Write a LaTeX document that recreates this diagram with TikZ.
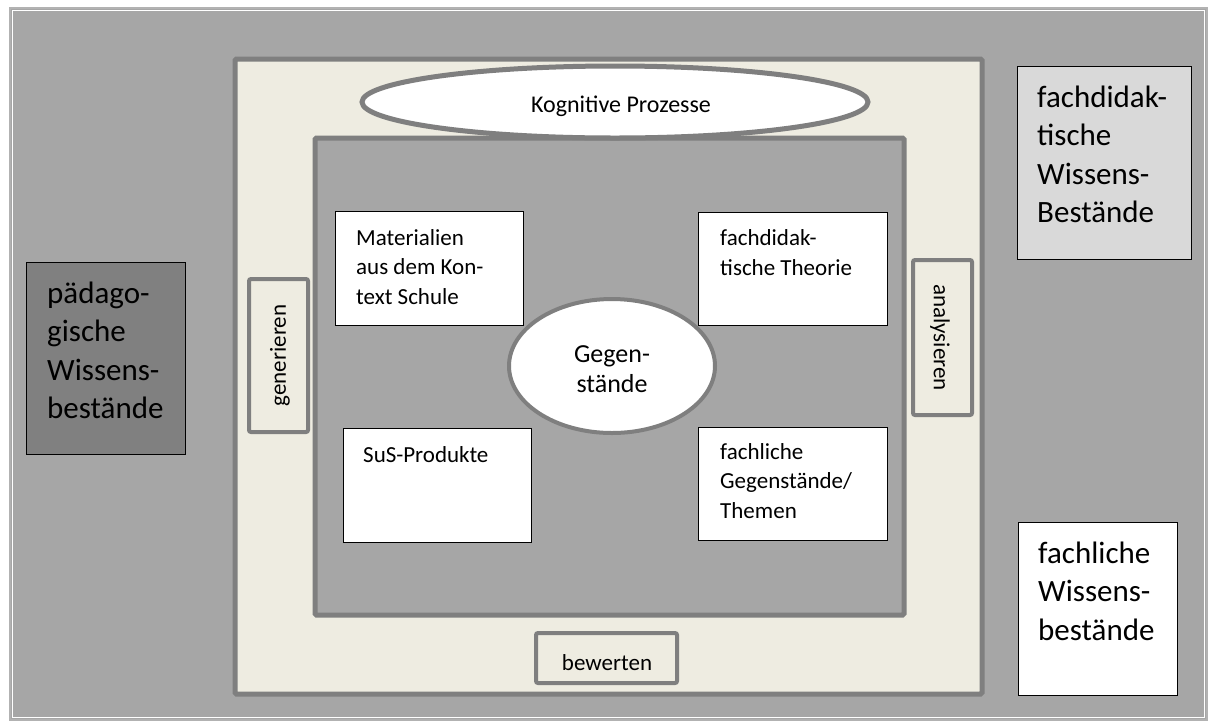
\documentclass[tikz,border=0pt]{standalone}
\usepackage{fontspec}
\setmainfont{Carlito}
\usetikzlibrary{shapes.geometric}
\definecolor{bggray}{HTML}{A6A6A6}
\definecolor{beige}{HTML}{EEECE1}
\definecolor{framegray}{HTML}{7F7F7F}
\definecolor{darkbox}{HTML}{808080}
\definecolor{lightbox}{HTML}{D9D9D9}
\begin{document}
\begin{tikzpicture}[x=1pt,y=-1pt,
  heavy/.style={draw=framegray, line width=5pt, rounded corners=1.5pt},
  card/.style={draw=black, line width=1.2pt, fill=white, anchor=north west, inner sep=0pt},
  bigcard/.style={draw=black, line width=0.9pt, anchor=north west, inner sep=0pt},
  verb/.style={draw=framegray, line width=4pt, fill=beige, rounded corners=2pt, inner sep=0pt},
  smalltxt/.style={anchor=base west, align=left, inner sep=0pt, font=\fontsize{23}{29.5}\selectfont},
  bigtxt/.style={anchor=base west, align=left, inner sep=0pt, font=\fontsize{31}{38.5}\selectfont},
  verbtxt/.style={inner sep=0pt, font=\fontsize{23}{26}\selectfont}
]
\useasboundingbox (0,0) rectangle (1215,724);
\fill[white] (0,0) rectangle (1215,724);
% outer frame
\draw[draw=gray!60, line width=1.5pt, fill=bggray] (10,8) rectangle (1207,720);
\draw[white, line width=1pt] (12.5,10.5) rectangle (1204.5,717.5);
% beige frame
\draw[heavy, fill=beige] (235,59) rectangle (982,694);
% inner gray box
\draw[heavy, fill=bggray] (315,138) rectangle (904,615);
% Kognitive Prozesse
\node[ellipse, draw=framegray, line width=5pt, fill=white, minimum width=506pt, minimum height=72pt, inner sep=0pt] (kog) at (615,102) {};
\node[anchor=base, inner sep=0pt, font=\fontsize{24}{28}\selectfont] (kogt) at (621,112) {Kognitive Prozesse};
% four cards
\node[card, minimum width=188pt, minimum height=114pt] (mat) at (335,211) {};
\node[smalltxt] (matt) at (356,304) {Materialien\\aus dem Kon-\\text Schule};
\node[card, minimum width=189pt, minimum height=113pt] (fdt) at (698,212) {};
\node[smalltxt] (fdtt) at (720,275) {fachdidak-\\tische Theorie};
\node[card, minimum width=188pt, minimum height=114pt] (sus) at (343,428) {};
\node[smalltxt] (sust) at (363,462) {SuS-Produkte};
\node[card, minimum width=189pt, minimum height=113pt] (fgt) at (698,427) {};
\node[smalltxt] (fgtt) at (720,518) {fachliche\\Gegenstände/\\Themen};
% Gegenstaende
\node[ellipse, draw=framegray, line width=4pt, fill=white, minimum width=206pt, minimum height=134pt, inner sep=0pt] (geg) at (612,366) {};
\node[anchor=base, align=center, inner sep=0pt, font=\fontsize{26}{30}\selectfont] (gegt) at (612,392) {Gegen-\\stände};
% verbs
\node[verb, minimum width=59pt, minimum height=153pt] (gen) at (278.5,355.5) {};
\node[verbtxt, rotate=90] (gent) at (280,355.5) {generieren};
\node[verb, minimum width=59pt, minimum height=155pt] (ana) at (942.5,337.5) {};
\node[verbtxt, rotate=-90] (anat) at (940,337.5) {analysieren};
\node[verb, minimum width=141pt, minimum height=50pt] (bew) at (606.5,658) {};
\node[verbtxt, anchor=base] (bewt) at (607,670) {bewerten};
% knowledge boxes
\node[bigcard, fill=darkbox, minimum width=159pt, minimum height=192pt] (paed) at (26,262) {};
\node[bigtxt] (paedt) at (47,418.5) {pädago-\\gische\\Wissens-\\bestände};
\node[bigcard, fill=lightbox, minimum width=174pt, minimum height=193pt] (fdw) at (1017,66) {};
\node[bigtxt] (fdwt) at (1037,222.5) {fachdidak-\\tische\\Wissens-\\Bestände};
\node[bigcard, fill=white, minimum width=159pt, minimum height=173pt] (fw) at (1018,522) {};
\node[bigtxt] (fwt) at (1038,640) {fachliche\\Wissens-\\bestände};
\end{tikzpicture}
\end{document}
